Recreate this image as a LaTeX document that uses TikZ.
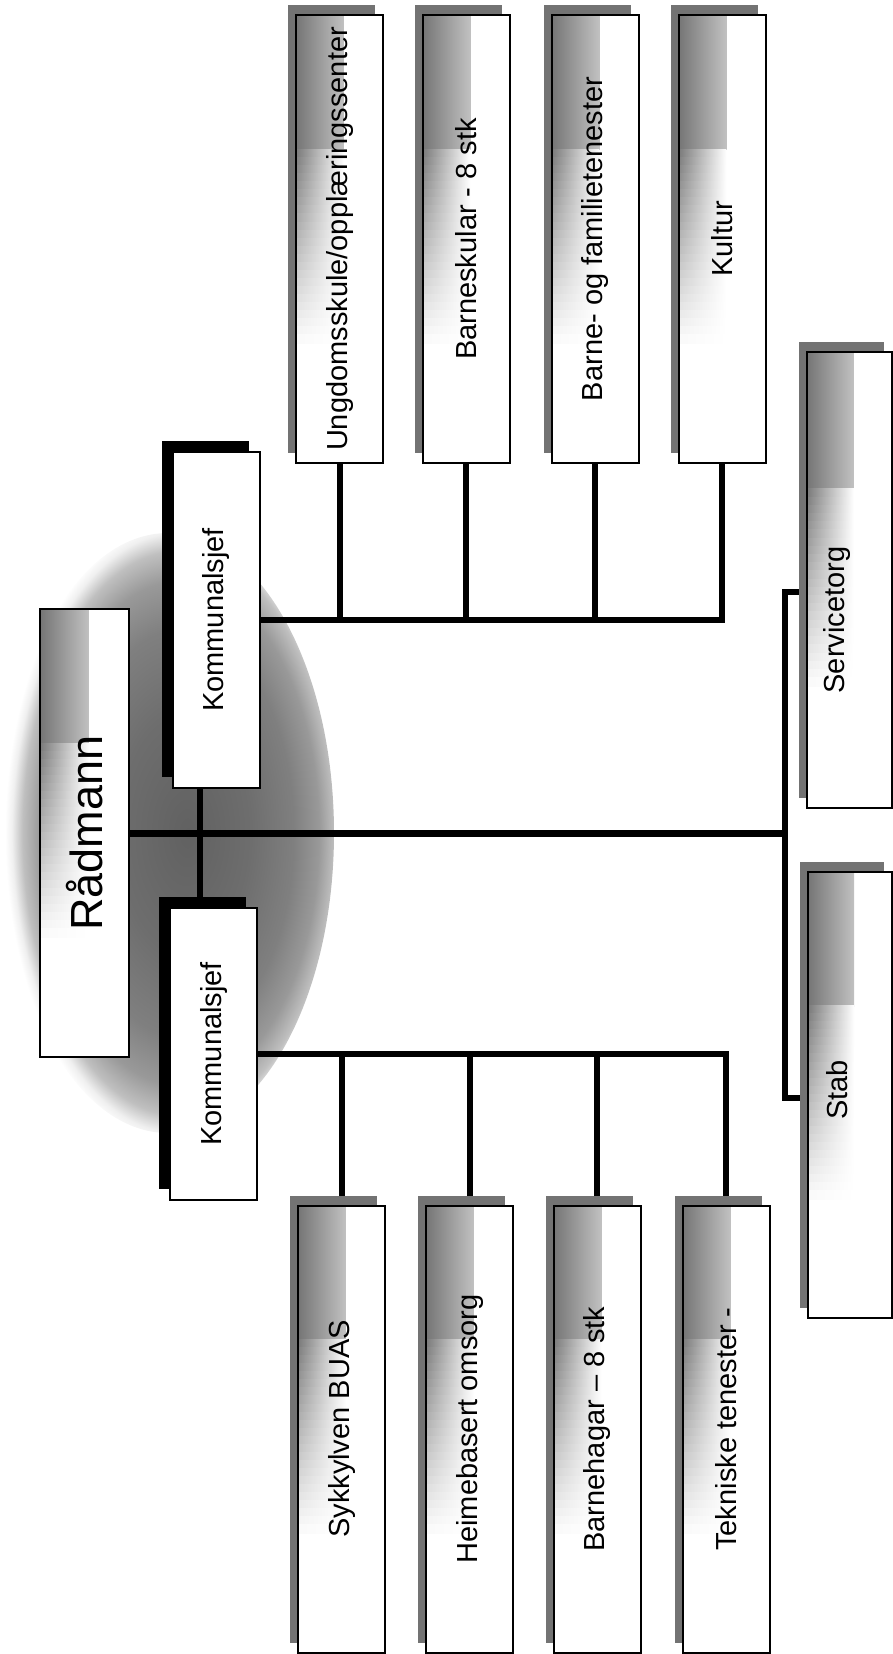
\documentclass[tikz,border=0pt]{standalone}
\usepackage{fontspec}
\usepackage{graphicx}
\setmainfont{Liberation Sans}
\usetikzlibrary{shadows,calc}
\pgfdeclarelayer{bg}
\pgfdeclarelayer{lines}
\pgfsetlayers{bg,lines,main}
\pgfdeclareradialshading{ellshade}{\pgfpoint{3bp}{0bp}}{color(0bp)=(black!62); color(10bp)=(black!57); color(17bp)=(black!50); color(21bp)=(black!40); color(23.5bp)=(black!25); color(25bp)=(black!6); color(26bp)=(white); color(50bp)=(white)}
\begin{document}
\begin{tikzpicture}[x=1pt, y=-1pt, line join=miter,
  inner shade/.style={path picture={
     \foreach \k in {0,...,24}{
       \pgfmathsetmacro\ink{\k==0 ? 54 : 54*(1-\k/25)}
       \pgfmathsetmacro\fa{\k==0 ? 0 : 0.30+0.018*(\k-1)}
       \pgfmathsetmacro\fb{0.30+0.018*\k+0.002}
       \shade[left color=black!\ink, right color=white]
         let \p1=(path picture bounding box.north west), \p2=(path picture bounding box.south east) in
         (\x1,{\y1-\fa*((\y1)-(\y2))}) rectangle ({\x1+0.55*((\x2)-(\x1))},{\y1-\fb*((\y1)-(\y2))});
     }}},
  boxfont/.style={font=\fontsize{29}{34}\selectfont},
  unit/.style={draw=black, line width=2pt, fill=white, inner sep=0pt,
     minimum width=87pt, minimum height=447pt, boxfont, inner shade,
     general shadow={shadow xshift=-8pt, shadow yshift=10pt, fill=black!55}},
  ksbox/.style={draw=black, line width=2pt, fill=white, inner sep=0pt,
     minimum width=87pt, boxfont,
     general shadow={shadow xshift=-11pt, shadow yshift=11pt, fill=black}},
  radbox/.style={draw=black, line width=2.5pt, fill=white, inner sep=0pt,
     minimum width=89pt, minimum height=448pt, inner shade,
     font=\fontsize{45}{52}\selectfont},
  lbl/.style={inner sep=0pt, boxfont},
  conn/.style={line width=6pt},
  mainconn/.style={line width=7pt}
]
\useasboundingbox (0,0) rectangle (893,1654);

\begin{pgfonlayer}{bg}
  \shade[shading=ellshade] (168,833) ellipse [x radius=166pt, y radius=300pt];
\end{pgfonlayer}

% nodes
\node[radbox] (rad) at (84.5,833) {\rotatebox{90}{Rådmann}};
\node[ksbox, minimum height=336pt] (ksA) at (216.5,620) {\rotatebox{90}{Kommunalsjef}};
\node[ksbox, minimum height=292pt] (ksB) at (213.5,1054) {\rotatebox{90}{Kommunalsjef}};

\node[unit] (ung)  at (339.5,239) {\rotatebox{90}{Ungdomsskule/opplæringssenter}};
\node[unit] (bsk)  at (466,239)   {\rotatebox{90}{Barneskular - 8 stk}};
\node[unit] (bfam) at (595,239)   {\rotatebox{90}{Barne- og familietenester}};
\node[unit] (kul)  at (722,239)   {\rotatebox{90}{Kultur}};

\node[unit] (syk)  at (341.5,1429) {\rotatebox{90}{Sykkylven BUAS}};
\node[unit] (heim) at (469.5,1429) {\rotatebox{90}{Heimebasert omsorg}};
\node[unit] (bhag) at (597,1429)   {\rotatebox{90}{Barnehagar – 8 stk}};
\node[unit] (tek)  at (726,1429)   {\rotatebox{90}{Tekniske tenester -}};

\node[unit, minimum width=85pt, minimum height=456pt] (serv) at (849.5,580) {};
\node[lbl] (servT) at (837,620) {\rotatebox{90}{Servicetorg}};
\node[unit, minimum width=84pt, minimum height=446pt] (stab) at (850,1095) {};
\node[lbl] (stabT) at (837,1090) {\rotatebox{90}{Stab}};

\coordinate (brk) at (785,833);

% connectors
\begin{pgfonlayer}{lines}
  \draw[mainconn] (rad.east) -- (brk);
  \draw[conn] ([yshift=-12pt]serv.west) -| (brk) |- ([yshift=-3pt]stab.west);
  \draw[conn] ([xshift=-17pt]ksA.south) -- ([xshift=-17pt]ksA.south |- ksB.north);
  \draw[conn] (ksA.east) -| (kul.south);
  \foreach \n in {ung,bsk,bfam} \draw[conn] (\n.south) -- (\n.south |- ksA.east);
  \draw[conn] (ksB.east) -| (tek.north);
  \foreach \n in {syk,heim,bhag} \draw[conn] (\n.north) -- (\n.north |- ksB.east);
\end{pgfonlayer}
\end{tikzpicture}
\end{document}
